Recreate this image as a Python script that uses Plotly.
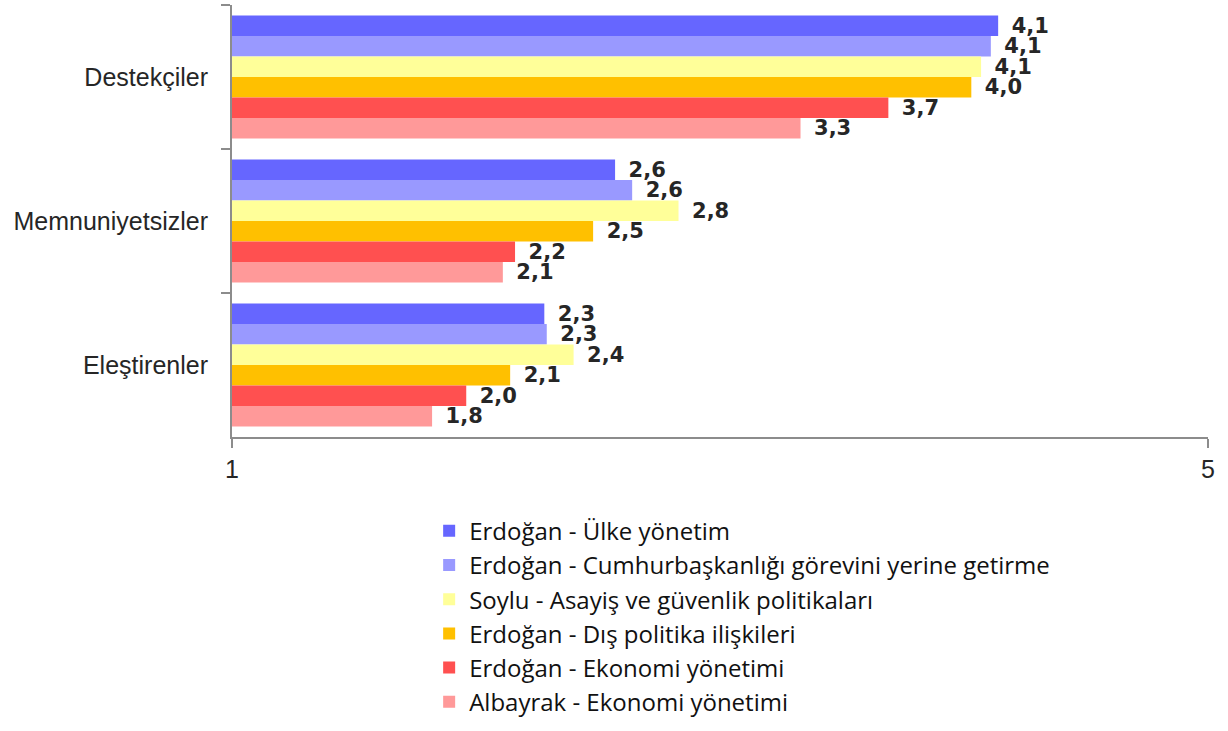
import plotly.graph_objects as go

# Groups shown on the category axis, top to bottom
groups = ["Destekçiler", "Memnuniyetsizler", "Eleştirenler"]

# Series names (legend order)
series_names = [
    "Erdoğan - Ülke yönetim",
    "Erdoğan - Cumhurbaşkanlığı görevini yerine getirme",
    "Soylu - Asayiş ve güvenlik politikaları",
    "Erdoğan - Dış politika ilişkileri",
    "Erdoğan - Ekonomi yönetimi",
    "Albayrak - Ekonomi yönetimi",
]

# Mean scores (1-5 scale) per group, one list per series
ulke_yonetim = [4.14, 2.57, 2.28]
cumhurbaskanligi = [4.11, 2.64, 2.29]
asayis_guvenlik = [4.07, 2.83, 2.40]
dis_politika = [4.03, 2.48, 2.14]
ekonomi_erdogan = [3.69, 2.16, 1.96]
ekonomi_albayrak = [3.33, 2.11, 1.82]

series_values = [
    ulke_yonetim,
    cumhurbaskanligi,
    asayis_guvenlik,
    dis_politika,
    ekonomi_erdogan,
    ekonomi_albayrak,
]

colors = ["#6666FF", "#9999FF", "#FFFF99", "#FFC000", "#FF5050", "#FF9999"]

x_ticks = [1, 5]


def fmt(v):
    # one decimal, Turkish decimal comma
    return f"{v:.1f}".replace(".", ",")


fig = go.Figure()
for name, vals, col in zip(series_names, series_values, colors):
    fig.add_trace(
        go.Bar(
            name=name,
            y=groups,
            x=vals,
            orientation="h",
            marker=dict(color=col, line=dict(width=0)),
            text=[fmt(v) for v in vals],
            texttemplate="\u2002%{text}",
            textposition="outside",
            constraintext="none",
            cliponaxis=False,
            textfont=dict(family="DejaVu Sans", size=21, color="#262626", weight=900),
            legendgroup=name,
        )
    )

fig.update_layout(
    width=1228,
    height=731,
    barmode="group",
    bargap=0.146,
    bargroupgap=0,
    plot_bgcolor="white",
    paper_bgcolor="white",
    margin=dict(l=232, r=20, t=5, b=294, autoexpand=False),
    font=dict(family="Liberation Sans, Arial, sans-serif", size=25, color="#262626"),
    showlegend=True,
    legend=dict(
        x=0.202,
        y=-0.166,
        xanchor="left",
        yanchor="top",
        traceorder="normal",
        tracegroupgap=11.5,
        font=dict(family="Open Sans, sans-serif", size=24, color="#111111"),
        bgcolor="rgba(0,0,0,0)",
    ),
    xaxis=dict(
        range=[1, 5],
        tickvals=x_ticks,
        ticktext=[str(t) for t in x_ticks],
        showgrid=True,
        gridcolor="#D9D9D9",
        gridwidth=2,
        zeroline=False,
        showline=True,
        linecolor="#8C8C8C",
        linewidth=2,
        ticks="outside",
        ticklen=9,
        tickwidth=2,
        tickcolor="#8C8C8C",
        tickfont=dict(size=25, color="#262626"),
        fixedrange=True,
    ),
    yaxis=dict(
        autorange="reversed",
        categoryorder="array",
        categoryarray=groups,
        showline=True,
        linecolor="#8C8C8C",
        linewidth=2,
        ticks="outside",
        tickson="boundaries",
        ticklen=9,
        tickwidth=2,
        tickcolor="#8C8C8C",
        ticklabelstandoff=17,
        showgrid=False,
        tickfont=dict(size=25, color="#262626"),
        fixedrange=True,
    ),
)

fig.write_html("out.html")
